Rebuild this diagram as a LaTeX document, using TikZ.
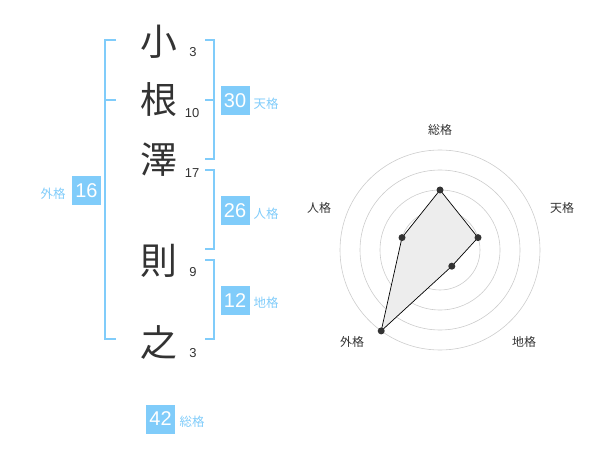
\documentclass[tikz,border=0pt]{standalone}
\usepackage{fontspec}
\setmainfont{Liberation Sans}
\newfontfamily\jp{Noto Sans CJK JP}
\definecolor{kblue}{RGB}{128,204,250}
\definecolor{ktext}{RGB}{51,51,51}
\begin{document}
\begin{tikzpicture}[x=1bp,y=-1bp,
 kanji/.style={font=\jp\fontsize{37}{37}\selectfont, text=ktext, inner sep=0},
 strokes/.style={font=\fontsize{13}{13}\selectfont, text=ktext, inner sep=0},
 numbox/.style={fill=kblue, text=white, minimum size=29bp, inner sep=0, font=\fontsize{20}{20}\selectfont},
 blab/.style={font=\jp\fontsize{12.5}{12.5}\selectfont, text=kblue, inner sep=0},
 brk/.style={draw=kblue, line width=2bp},
 ring/.style={draw=black!20, line width=0.6bp},
 rlab/.style={font=\jp\fontsize{12}{12}\selectfont, text=ktext, inner sep=0},
 dotpt/.style={circle, fill=ktext, minimum size=7bp, inner sep=0},
 poly/.style={draw=black, line width=0.7bp, fill=black!7},
]
\useasboundingbox (0,0) rectangle (600,470);
% name characters
\node[kanji] (k1) at (159,42) {小};
\node[kanji] (k2) at (159,100) {根};
\node[kanji] (k3) at (159,160) {澤};
\node[kanji] (k4) at (159,261) {則};
\node[kanji] (k5) at (159,342) {之};
\node[strokes] (s1) at (193,52) {3};
\node[strokes] (s2) at (192,113) {10};
\node[strokes] (s3) at (192,173) {17};
\node[strokes] (s4) at (193,272) {9};
\node[strokes] (s5) at (193,353) {3};
% brackets
\coordinate (la) at (116,40); \coordinate (lb) at (105,40);
\coordinate (lc) at (105,339); \coordinate (ld) at (116,339);
\coordinate (lm1) at (105,100); \coordinate (lm2) at (116,100);
\draw[brk] (la) -- (lb) -- (lc) -- (ld);
\draw[brk] (lm1) -- (lm2);
\coordinate (ra) at (205,40); \coordinate (rb) at (214,40);
\coordinate (rc) at (214,159); \coordinate (rd) at (205,159);
\coordinate (rm1) at (205,100); \coordinate (rm2) at (214,100);
\draw[brk] (ra) -- (rb) -- (rc) -- (rd);
\draw[brk] (rm1) -- (rm2);
\coordinate (sa) at (205,170); \coordinate (sb) at (214,170);
\coordinate (sc) at (214,249); \coordinate (sd) at (205,249);
\draw[brk] (sa) -- (sb) -- (sc) -- (sd);
\coordinate (ta) at (205,260); \coordinate (tb) at (214,260);
\coordinate (tc) at (214,339); \coordinate (td) at (205,339);
\draw[brk] (ta) -- (tb) -- (tc) -- (td);
% boxes
\node[numbox] (b16) at (86.5,190.5) {16};
\node[blab] (l16) at (53,194) {外格};
\node[numbox] (b30) at (235,100.5) {30};
\node[blab] (l30) at (266,104) {天格};
\node[numbox] (b26) at (235,210.5) {26};
\node[blab] (l26) at (266,214) {人格};
\node[numbox] (b12) at (235,300.5) {12};
\node[blab] (l12) at (266,303) {地格};
\node[numbox] (b42) at (160.5,419) {42};
\node[blab] (l42) at (192,422) {総格};
% radar
\coordinate (c) at (440,250);
\foreach \r in {20,40,60,80,100} \draw[ring] (c) circle[radius=\r bp];
\fill[black!22] (c) circle[radius=4bp];
\coordinate (p1) at (440,190);
\coordinate (p2) at (478.0,237.6);
\coordinate (p3) at (451.8,266.2);
\coordinate (p4) at (381.2,330.9);
\coordinate (p5) at (402.0,237.6);
\draw[poly] (p1) -- (p2) -- (p3) -- (p4) -- (p5) -- cycle;
\foreach \p in {p1,p2,p3,p4,p5} \node[dotpt] at (\p) {};
\node[rlab] (r1) at (440,130) {総格};
\node[rlab] (r2) at (562,208) {天格};
\node[rlab] (r3) at (524,342) {地格};
\node[rlab] (r4) at (352,342) {外格};
\node[rlab] (r5) at (319,208) {人格};
\end{tikzpicture}
\end{document}
